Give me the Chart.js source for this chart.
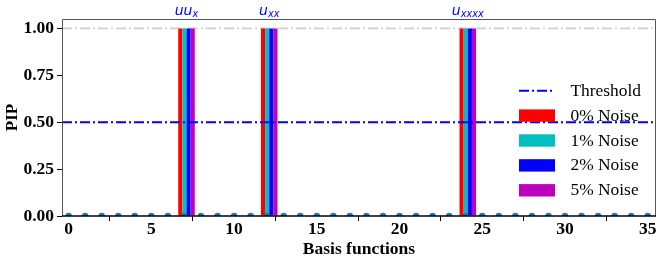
<!DOCTYPE html>
<html>
<head>
<meta charset="utf-8">
<script src="https://cdn.jsdelivr.net/npm/chart.js@4/dist/chart.umd.min.js"></script>
<style>
  html, body { margin: 0; padding: 0; background: #fff; }
  #wrap { width: 664px; height: 264px; }
</style>
</head>
<body>
<div id="wrap"><canvas id="c" width="664" height="264"></canvas></div>
<script>
// ---- data ----
const basisFunctions = [0,1,2,3,4,5,6,7,8,9,10,11,12,13,14,15,16,17,18,19,20,21,22,23,24,25,26,27,28,29,30,31,32,33,34,35];
const basisPIP = [0,0,0,0,0,0,0,0,0,0,0,0,0,0,0,0,0,0,0,0,0,0,0,0,0,0,0,0,0,0,0,0,0,0,0,0];
const selectedBasis = [7, 12, 24];
const termMain = ['uu', 'u', 'u'];
const termSub = ['x', 'xx', 'xxxx'];
const noiseLabels = ['0% Noise', '1% Noise', '2% Noise', '5% Noise'];
const pipNoise0 = [1.0, 1.0, 1.0];
const pipNoise1 = [1.0, 1.0, 1.0];
const pipNoise2 = [1.0, 1.0, 1.0];
const pipNoise5 = [1.0, 1.0, 1.0];
const threshold = 0.5;
const xTicks = [0, 5, 10, 15, 20, 25, 30, 35];
const yTicks = [0.00, 0.25, 0.50, 0.75, 1.00];
const xLimits = [-0.4, 35.5];
const yLimits = [0, 1.05];

// ---- styles ----
const noiseColors = ['#ff0000', '#00bfbf', '#0000ff', '#bf00bf'];
const barStep = 0.25;
const serif = "'Liberation Serif', 'Times New Roman', serif";

const pipSeries = [pipNoise0, pipNoise1, pipNoise2, pipNoise5];
const barDatasets = pipSeries.map((vals, i) => ({
  type: 'bar',
  label: noiseLabels[i],
  data: selectedBasis.map((b, j) => ({ x: b + (i - 1) * barStep, y: vals[j] })),
  backgroundColor: noiseColors[i],
  borderWidth: 0,
  inflateAmount: 0,
  grouped: false,
  barPercentage: 1.0,
  categoryPercentage: 1.0,
  order: 10 - i,
  legendBox: true
}));

const thresholdDataset = {
  type: 'line',
  label: 'Threshold',
  data: [{ x: xLimits[0], y: threshold }, { x: xLimits[1], y: threshold }],
  borderColor: '#0000ff',
  borderWidth: 2,
  borderDash: [10, 3, 2, 3],
  pointRadius: 0,
  showLine: true,
  fill: false,
  order: 1,
  clip: 0,
  legendLine: true
};

const dotsDataset = {
  type: 'scatter',
  label: 'basis',
  data: basisFunctions.map((b, i) => ({ x: b, y: basisPIP[i] })),
  backgroundColor: '#1f77b4',
  borderWidth: 0,
  pointRadius: 3.2,
  showLine: false,
  order: 0,
  clip: 0
};

const decor = {
  id: 'decor',
  beforeDatasetsDraw(chart) {
    const { ctx, chartArea: a, scales: { y } } = chart;
    const py = y.getPixelForValue(1.0);
    ctx.save();
    ctx.strokeStyle = '#cfcfcf';
    ctx.lineWidth = 1.6;
    ctx.setLineDash([10, 3, 2, 3]);
    ctx.beginPath();
    ctx.moveTo(a.left, py);
    ctx.lineTo(a.right, py);
    ctx.stroke();
    ctx.restore();
  },
  afterDraw(chart) {
    const { ctx, chartArea: a, scales: { x } } = chart;
    ctx.save();
    // spines
    ctx.strokeStyle = '#555';
    ctx.lineWidth = 1;
    ctx.beginPath();
    ctx.moveTo(a.left + 0.5, a.bottom);
    ctx.lineTo(a.left + 0.5, a.top + 0.5);
    ctx.lineTo(a.right - 0.5, a.top + 0.5);
    ctx.lineTo(a.right - 0.5, a.bottom);
    ctx.stroke();
    ctx.strokeStyle = '#000';
    ctx.lineWidth = 1.5;
    ctx.beginPath();
    ctx.moveTo(a.left, a.bottom);
    ctx.lineTo(a.right, a.bottom);
    ctx.stroke();

    // term labels above the bar groups
    ctx.fillStyle = '#0000ff';
    ctx.textBaseline = 'alphabetic';
    const mainFont = "italic 14px 'DejaVu Sans', sans-serif";
    const subFont = "italic 9.8px 'DejaVu Sans', sans-serif";
    selectedBasis.forEach((b, j) => {
      ctx.font = mainFont;
      const wm = ctx.measureText(termMain[j]).width;
      ctx.font = subFont;
      const ws = ctx.measureText(termSub[j]).width;
      const cx = x.getPixelForValue(b + barStep / 2);
      const x0 = cx - (wm + ws) / 2;
      ctx.font = mainFont;
      ctx.textAlign = 'left';
      ctx.fillText(termMain[j], x0, 15);
      ctx.font = subFont;
      ctx.fillText(termSub[j], x0 + wm, 17.3);
    });

    // legend
    const items = chart.data.datasets.filter(d => d.legendLine || d.legendBox);
    const lx = 519, lw = 36, tx = 570.5, y0 = 90.7, dy = 24.9;
    ctx.font = '17.4px ' + serif;
    ctx.textAlign = 'left';
    ctx.textBaseline = 'middle';
    items.forEach((d, k) => {
      const cy = y0 + k * dy;
      if (d.legendLine) {
        ctx.save();
        ctx.strokeStyle = d.borderColor;
        ctx.lineWidth = d.borderWidth;
        ctx.setLineDash(d.borderDash);
        ctx.beginPath();
        ctx.moveTo(lx, cy);
        ctx.lineTo(lx + lw, cy);
        ctx.stroke();
        ctx.restore();
      } else {
        ctx.fillStyle = d.backgroundColor;
        ctx.fillRect(lx, cy - 6.2, lw, 12.4);
      }
      ctx.fillStyle = '#000';
      ctx.fillText(d.label, tx, cy + 0.5);
    });
    ctx.restore();
  }
};

new Chart(document.getElementById('c'), {
  type: 'scatter',
  data: { datasets: [dotsDataset, thresholdDataset, ...barDatasets] },
  options: {
    responsive: false,
    devicePixelRatio: 1,
    animation: false,
    layout: { padding: { top: 19, right: 8, left: 0, bottom: 0 } },
    plugins: { legend: { display: false }, tooltip: { enabled: false } },
    scales: {
      x: {
        type: 'linear',
        min: xLimits[0],
        max: xLimits[1],
        offset: false,
        afterBuildTicks: s => { s.ticks = xTicks.map(v => ({ value: v })); },
        afterFit: s => { s.height = 48; },
        grid: { drawOnChartArea: false, drawTicks: true, tickLength: 5, tickColor: '#000', tickWidth: 1 },
        border: { display: false },
        ticks: {
          padding: -2,
          color: '#000',
          font: { family: serif, size: 17.5, weight: 'bold' },
          maxRotation: 0,
          autoSkip: false,
          callback: v => String(v)
        },
        title: {
          display: true,
          text: 'Basis functions',
          color: '#000',
          font: { family: serif, size: 17.5, weight: 'bold' },
          padding: { top: 0, bottom: 4.5 }
        }
      },
      y: {
        type: 'linear',
        min: yLimits[0],
        max: yLimits[1],
        afterBuildTicks: s => { s.ticks = yTicks.map(v => ({ value: v })); },
        afterFit: s => { s.width = 62; },
        grid: { drawOnChartArea: false, drawTicks: true, tickLength: 5, tickColor: '#000', tickWidth: 1 },
        border: { display: false },
        ticks: {
          padding: 3,
          color: '#000',
          font: { family: serif, size: 17.5, weight: 'bold' },
          callback: v => Number(v).toFixed(2)
        },
        title: {
          display: true,
          text: 'PIP',
          color: '#000',
          font: { family: serif, size: 17, weight: 'bold' },
          padding: { top: 2, bottom: 0 }
        }
      }
    }
  },
  plugins: [decor]
});
</script>
</body>
</html>
